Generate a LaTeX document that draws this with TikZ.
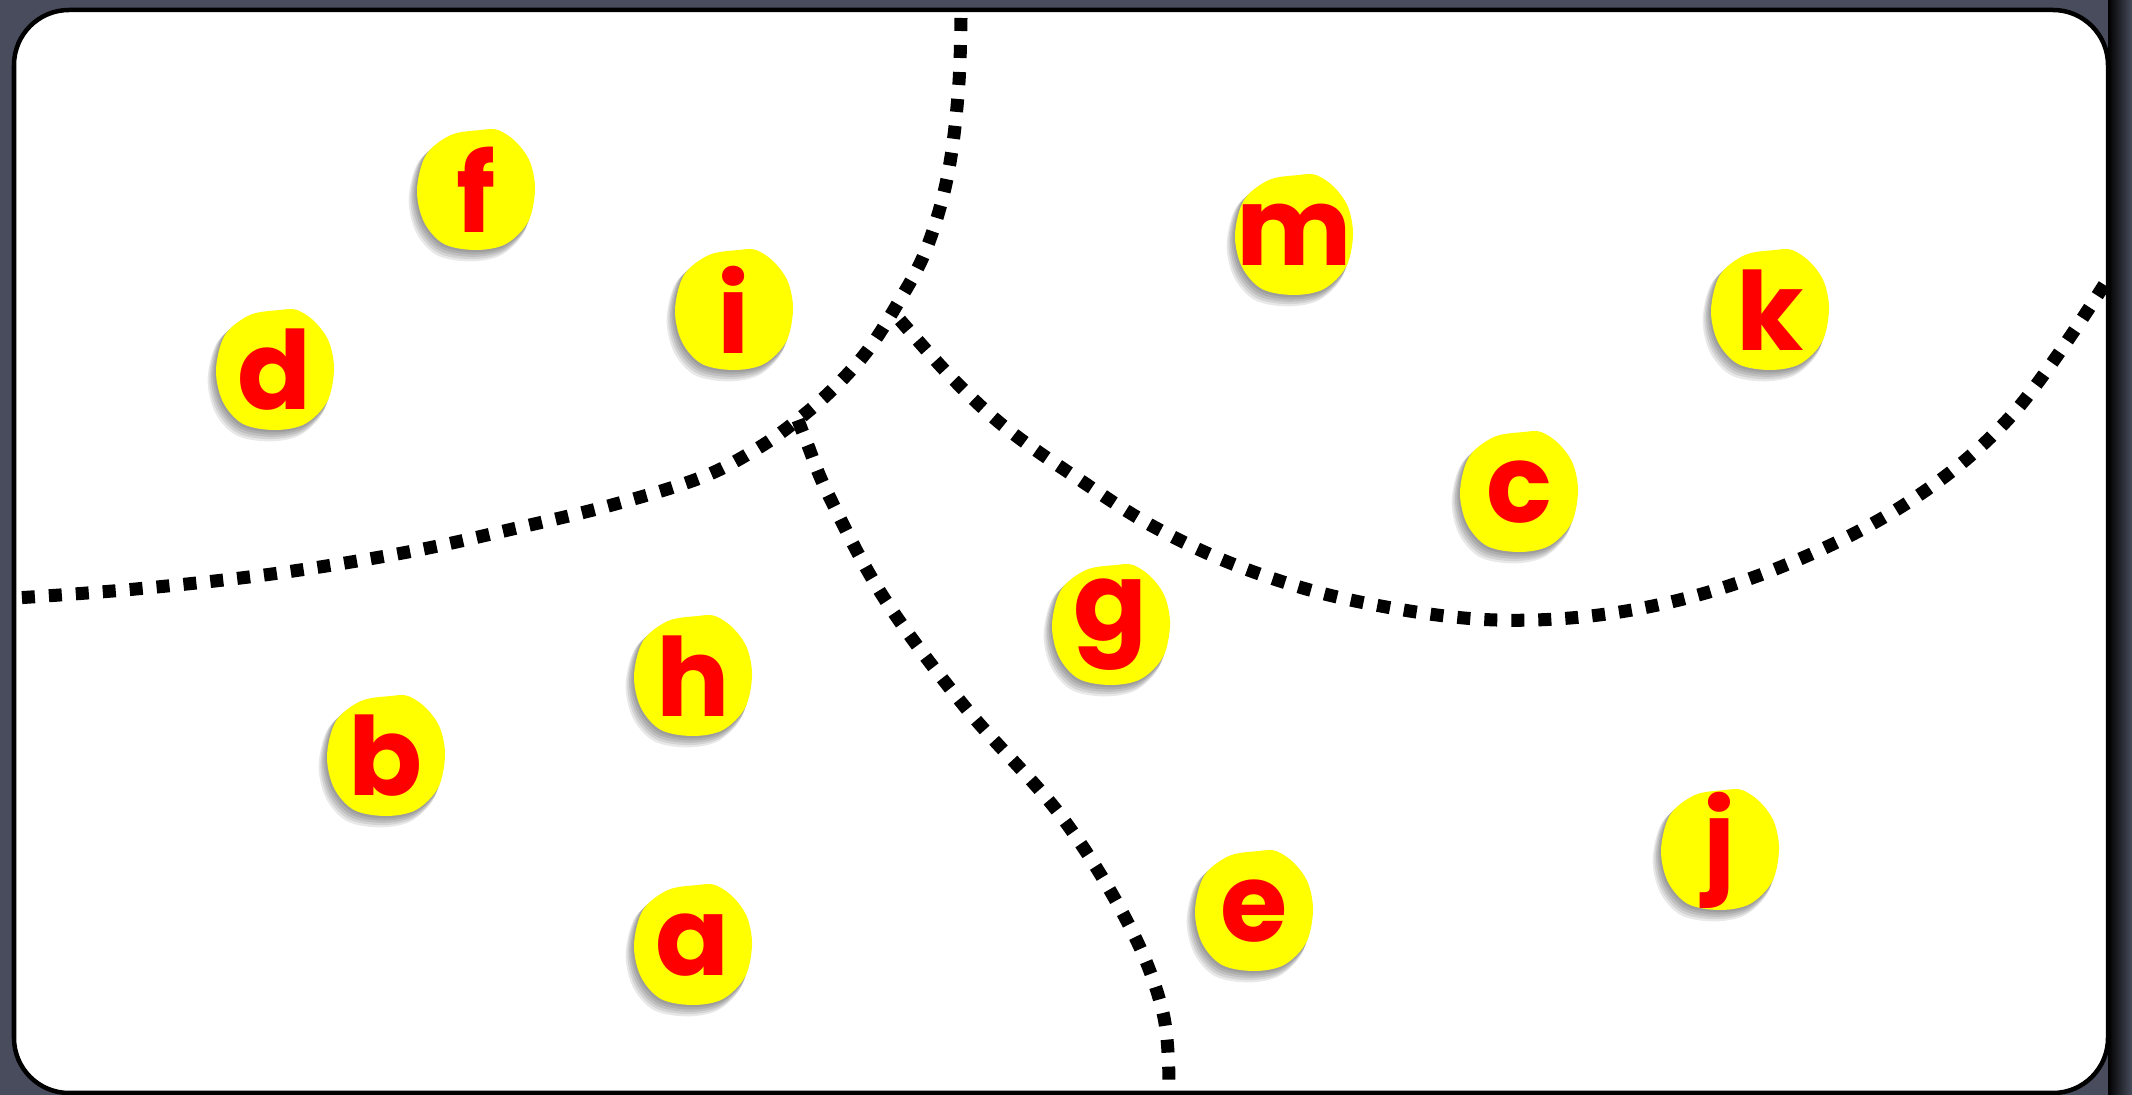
\documentclass[tikz,border=0pt]{standalone}
\usepackage{fontspec}
\newfontfamily\lettfont{Poppins}
\definecolor{bg}{RGB}{72,76,92}
\definecolor{blobyellow}{RGB}{255,255,0}
\definecolor{letterred}{RGB}{255,0,0}
\begin{document}
\begin{tikzpicture}[x=0.01cm,y=-0.01cm,
  blobanchor/.style={circle, minimum size=12mm, inner sep=0pt},
  blobfill/.style={fill=blobyellow},
  blobshadow/.style={fill=black, opacity=0.09},
  letter/.style={text=letterred, font=\lettfont\bfseries\fontsize{31}{31}\selectfont, inner sep=0pt},
  divider/.style={line width=1.3mm, dash pattern=on 1.3mm off 1.4mm, black}]
\def\blobpath{plot[smooth cycle, tension=0.55] coordinates {(-59,0) (-50,-35) (-25,-55) (5,-60) (22,-60) (40,-48) (54,-28) (59,0) (52,32) (30,54) (0,60) (-32,54) (-52,32)}}
\useasboundingbox (0,0) rectangle (2132,1095);
\fill[bg] (0,0) rectangle (2132,1095);
\shade[left color=black, right color=bg] (2108,0) rectangle (2132,1095);
\draw[line width=0.45mm, fill=white, rounded corners=5.5mm] (14,10) rectangle (2108,1093);

% dividing curves
\draw[divider] plot[smooth, tension=0.6] coordinates {(961,18) (959,82) (952,150) (941,204) (923,257) (898,303) (868,350) (833,389) (795,422) (755,450) (700,478) (612,505) (517,528) (408,552) (272,574) (136,589) (16,598)};
\draw[divider] plot[smooth, tension=0.6] coordinates {(900,320) (952,378) (1006,428) (1074,476) (1156,528) (1251,571) (1360,602) (1496,620) (1632,610) (1768,572) (1904,505) (2012,415) (2106,282)};
\draw[divider] plot[smooth, tension=0.6] coordinates {(798,420) (807,443) (829,496) (884,598) (965,707) (1061,816) (1129,925) (1163,1013) (1169,1090)};

% blobs
\foreach \n/\x/\y in {f/476/190, d/275/370, i/734/310, m/1294/235, k/1770/310, c/1519/492, g/1111/625, h/693/676, b/386/756, a/693/945, e/1254/911, j/1720/850}{
  \node[blobanchor] (\n) at (\x,\y) {};
  \foreach \s in {2,4,6,8,10}{
    \fill[blobshadow, shift={(\x-0.6*\s,\y+0.9*\s)}, scale=1+0.004*\s] \blobpath;
  }
  \fill[blobfill, shift={(\x,\y)}] \blobpath;
}
\foreach \n in {f,d,i,m,k,c,g,h,b,a,e,j}{
  \node[letter] (\n-t) at (\n) {\n};
}
\end{tikzpicture}
\end{document}
